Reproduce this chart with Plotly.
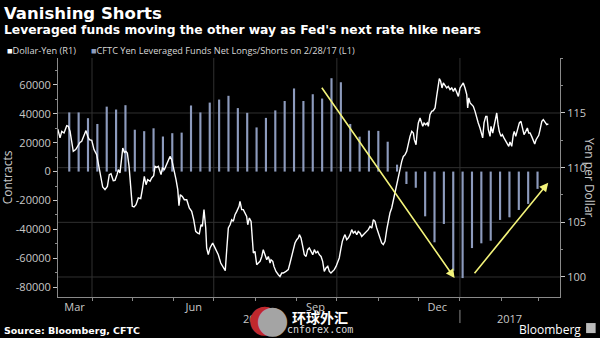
import pandas as pd
import plotly.graph_objects as go

# ---------------- text ----------------
title = "Vanishing Shorts"
subtitle = "Leveraged funds moving the other way as Fed's next rate hike nears"
legend_line = "Dollar-Yen (R1)"
legend_bar = "CFTC Yen Leveraged Funds Net Longs/Shorts on 2/28/17 (L1)"
source = "Source: Bloomberg, CFTC"
brand = "Bloomberg"
left_title = "Contracts"
right_title = "Yen per Dollar"
watermark_cn = "环球外汇"
watermark_en = "cnforex.com"

# ---------------- data ----------------
# CFTC weekly report (Tuesdays), first report and net positions in contracts
cftc_first_report = "2016-03-15"
cftc_net = [41000, 41000, 37000, 33000, 45000, 43000, 46000, 29000, 28000, 30000,
            24300, 26600, 27000, 45800,
            41000, 47800, 49900, 52500, 44000, 40700, 30600, 37200, 42400, 48900,
            57600, 48900, 53600, 50600, 64700, 61900, 33000, 24200, 28400, 28200,
            20700, 4800,
            -8600, -11200, -31000, -49000, -36300, -68700, -73800, -53000, -49700,
            -47900, -33500, -31700, -26600, -22400, -12000]

# Dollar-Yen: days after 2016-03-01 and level
usdjpy_origin = "2016-03-01"
usdjpy_day = [
    5.4, 7.1, 8.4, 10.1, 12.1, 13.3, 14.6, 17.0, 18.8, 20.8, 22.0, 23.3, 25.3, 26.5, 27.8,
    29.0, 30.8, 32.5, 34.5, 36.2, 37.7, 39.0, 40.7, 42.5, 43.9, 45.2, 46.9, 48.2, 49.7,
    50.7, 51.9, 53.2, 54.0, 55.2, 56.4, 57.4, 58.7, 59.9, 61.1, 62.4, 63.9, 65.6, 67.4,
    68.6, 70.1, 71.4, 72.6, 74.4, 75.6, 77.1, 78.1, 79.4, 80.6, 82.6, 83.6, 85.1, 86.3,
    88.0, 89.3, 90.6, 92.3, 93.8, 95.1, 96.0, 97.0, 98.5, 100.0, 101.8, 103.7, 105.5,
    107.0, 108.5, 110.0, 111.2, 112.5, 113.5, 114.7,
    116.0, 116.7, 117.9, 119.2, 121.2, 122.4, 123.7, 125.4, 127.2, 129.2, 130.6, 131.7,
    132.9, 134.2, 135.4, 136.6, 137.9, 139.2, 140.9, 141.6, 142.9, 144.1, 145.4, 146.6,
    147.4, 148.6, 149.9, 150.8, 151.6, 152.8, 154.1, 155.3, 156.6, 157.9, 159.0, 160.3,
    161.6, 162.8, 164.1, 164.8, 166.1, 167.0, 168.5, 170.3, 171.5, 172.8, 174.0, 176.0,
    177.7, 179.0, 180.3, 181.5, 182.7, 184.0, 185.2, 186.0, 187.2, 188.5, 189.7, 191.0,
    192.2, 193.4, 194.7, 196.0, 197.2, 198.4, 199.7, 200.9, 202.2, 203.4, 204.6, 205.9,
    207.2, 208.4, 209.6, 210.9, 212.1, 213.4, 214.7, 215.8, 216.9, 218.1, 219.4, 220.1,
    221.4, 222.6,
    223.9, 225.1, 226.3, 227.6, 228.9, 230.0, 231.3, 232.6, 233.8, 235.1,
    236.3, 237.5, 238.8, 240.1, 241.3, 242.5, 243.8, 245.0, 246.3, 247.5,
    248.7, 250.0, 251.3, 252.5, 253.7, 255.0, 255.8, 256.7, 257.5, 258.7,
    259.9, 261.2, 262.5, 263.7, 265.0, 266.2, 267.4, 268.7, 270.0, 271.2,
    271.9, 273.2, 274.1, 274.9, 276.2, 276.9, 278.2, 279.2, 280.4, 281.6,
    282.4, 283.6, 284.9, 286.1, 287.4, 288.6, 289.8, 290.6, 291.6, 292.6,
    293.6, 294.9, 296.1, 297.3, 298.6, 299.9, 301.1, 302.3, 303.6, 304.8,
    306.1, 307.3, 308.5, 309.8, 311.1, 311.8, 312.6, 313.6, 314.8, 316.0,
    317.3, 318.5, 319.7, 321.0, 322.3, 323.0, 324.0, 325.3, 326.2, 327.2,
    328.5, 329.2, 330.5, 331.7, 332.7, 333.5, 334.5, 335.4, 336.7, 337.7,
    338.9, 340.2, 341.4, 342.5, 343.4, 344.7, 345.9, 346.6, 347.7, 348.9,
    350.4, 351.6, 352.9, 353.9, 355.2, 356.4, 357.4, 358.4, 359.6, 360.8,
    361.9, 362.9, 363.9, 364.9, 365.9, 367.2, 368.3, 369.6, 370.9, 372.1]
usdjpy = [
    113.54, 112.72, 113.32, 113.17, 113.84, 113.78, 113.32, 111.49, 111.65, 112.10,
    112.31, 112.41, 113.02, 113.39, 112.87, 112.56, 112.50, 111.65, 111.19, 109.97,
    108.90, 108.23, 107.99, 108.29, 109.36, 109.45, 108.81, 108.84, 109.36, 109.82,
    109.51, 110.73, 111.80, 111.40, 111.49, 111.34, 110.12, 108.29, 106.46, 106.40,
    106.61, 107.23, 107.16, 107.99, 109.20, 108.44, 108.90, 108.75, 109.06, 109.27,
    110.12, 110.03, 110.12, 109.36, 109.97, 109.82, 110.12, 110.58, 111.03, 110.73,
    109.82, 108.90, 107.99, 106.52, 107.53, 107.37, 107.07, 107.07, 106.31, 106.00,
    105.24, 104.17, 104.02, 103.96, 104.78, 104.63, 106.16,
    104.48, 102.65, 102.04, 102.65, 103.11, 102.80, 102.50, 102.04, 101.28, 100.82,
    100.58, 102.50, 104.48, 104.78, 105.24, 105.09, 105.70, 106.00, 106.46, 106.92,
    106.16, 106.16, 105.79, 105.54, 104.78, 105.40, 105.09, 103.71, 102.20, 102.34,
    101.13, 101.28, 101.43, 101.88, 102.50, 102.04, 101.58, 101.88, 101.28, 101.58,
    101.43, 100.97, 100.51, 100.21, 100.05, 100.36, 100.36, 100.51, 100.67, 101.28,
    101.88, 102.34, 103.11, 103.41, 103.57, 103.87, 103.57, 102.80, 102.04, 101.88,
    102.50, 102.65, 102.34, 102.04, 102.50, 102.20, 102.34, 102.04, 101.88, 101.43,
    100.51, 100.82, 100.97, 100.51, 100.36, 100.51, 100.67, 100.97, 101.43, 101.74,
    102.50, 103.26, 103.71, 103.87, 103.41, 103.57,
    103.87, 104.33, 104.02, 104.17, 103.87, 104.17, 104.02, 103.71, 103.87, 104.02,
    104.17, 104.33, 104.63, 104.48, 105.24, 105.09, 104.48, 104.02, 103.41, 103.11,
    102.96, 103.26, 104.33, 105.24, 105.85, 106.31, 106.77, 107.23, 107.83, 108.44,
    109.06, 109.66, 110.58, 111.03, 111.19, 111.49, 112.26, 112.86, 113.32, 113.17,
    112.56, 112.10, 113.32, 114.09, 114.55, 114.24, 113.78, 114.09, 113.93, 114.09,
    113.78, 114.85, 115.15, 115.21, 115.46, 116.52, 117.75, 118.14, 117.90, 117.29,
    117.75, 117.44, 117.29, 117.44, 117.14, 117.29, 116.98, 117.29, 116.83, 116.52,
    117.29, 117.59, 117.75, 117.29, 116.68, 115.46, 116.38, 115.92, 115.76, 115.61,
    115.15, 114.55, 114.09, 113.63, 112.86, 112.72, 114.09, 114.69, 114.69, 113.48,
    112.86, 113.78, 113.17, 113.93, 114.85, 115.00, 113.93, 113.32, 112.86, 113.02,
    112.72, 112.41, 112.10, 111.95, 112.35, 111.95, 113.02, 113.32, 112.86, 113.48,
    114.09, 114.24, 113.63, 113.02, 113.32, 113.63, 113.17, 113.17, 112.86, 112.41,
    112.17, 112.56, 112.72, 112.96, 113.48, 114.24, 114.39, 114.09, 113.93, 114.00]
assert len(usdjpy_day) == len(usdjpy)

# axis ticks / labels
month_labels = ["Mar", "Jun", "Sep", "Dec"]
month_label_dates = ["2016-03-19", "2016-06-16", "2016-09-15", "2016-12-15"]
month_starts = ["2016-04-01", "2016-05-01", "2016-06-01", "2016-07-01", "2016-08-01",
                "2016-09-01", "2016-10-01", "2016-11-01", "2016-12-01", "2017-01-01",
                "2017-02-01", "2017-03-01"]
quarter_grid = ["2016-04-01", "2016-07-01", "2016-10-01", "2017-01-01"]
year_labels = ["2016", "2017"]
year_label_dates = ["2016-08-01", "2017-02-07"]
year_break = "2017-01-01"
x_range = ["2016-03-06 14:00", "2017-03-16 19:00"]

left_ticks = [-80000, -60000, -40000, -20000, 0, 20000, 40000, 60000]
left_ticktext = ["-80000", "-60000", "-40000", "-20000", "0", "20000", "40000", "60000"]
left_range = [-86900, 78700]
right_ticks = [100, 105, 110, 115]
right_range = [98.17, 120.03]

# annotation arrows: (tail date, tail yen) -> (head date, head yen)
arrows = [(("2016-09-19", 117.44), ("2016-12-28", 99.9)),
          (("2017-01-11", 100.21), ("2017-03-08", 108.63))]

# ---------------- styles ----------------
BAR = "#8d9bbd"
AX = "#8a8a8a"
GRID = "#303030"
TXT = "#c8c8c8"
ARROW = "#f3f37a"
SANS = "Open Sans"
BOLD = "DejaVu Sans"

base = pd.Timestamp(usdjpy_origin)
line_dates = base + pd.to_timedelta(usdjpy_day, unit="D")
bar_dates = pd.date_range(cftc_first_report, periods=len(cftc_net), freq="7D")

fig = go.Figure()
fig.add_bar(x=bar_dates, y=cftc_net, width=1.6 * 86400000,
            marker=dict(color=BAR, line_width=0), yaxis="y", name=legend_bar)
fig.add_scatter(x=line_dates, y=usdjpy, mode="lines", yaxis="y2",
                line=dict(color="white", width=1.4), name=legend_line)

fig.update_layout(
    width=600, height=338,
    margin=dict(l=58, r=40, t=58, b=41),
    paper_bgcolor="black", plot_bgcolor="rgba(0,0,0,0)",
    showlegend=False,
    font=dict(family=SANS, color=TXT, size=11),
    xaxis=dict(type="date", range=x_range, tickvals=month_label_dates,
               ticktext=month_labels, ticks="", showgrid=False, zeroline=False,
               showline=True, linecolor=AX, linewidth=1,
               tickfont=dict(size=11, color=TXT),
               minor=dict(tickvals=month_starts, ticks="outside", ticklen=3,
                          tickcolor=AX, showgrid=False)),
    yaxis=dict(range=left_range, tickvals=left_ticks, ticktext=left_ticktext,
               ticks="outside", ticklen=4, tickcolor=TXT, showline=True,
               linecolor=AX, showgrid=False, zeroline=False,
               tickfont=dict(size=11, color=TXT),
               minor=dict(tick0=0, dtick=10000, ticks="outside", ticklen=2,
                          tickcolor=AX)),
    yaxis2=dict(overlaying="y", side="right", range=right_range,
                tickvals=right_ticks, ticks="outside", ticklen=4, tickcolor=TXT,
                showline=True, linecolor=AX, showgrid=False, zeroline=False,
                tickfont=dict(size=11, color=TXT),
                minor=dict(tick0=0, dtick=2.5, ticks="outside", ticklen=2,
                           tickcolor=AX)),
)

# gridlines
for v in right_ticks:
    fig.add_shape(type="line", xref="paper", x0=0, x1=1, yref="y2", y0=v, y1=v,
                  line=dict(color=GRID, width=1), layer="below")
for d in quarter_grid:
    fig.add_shape(type="line", xref="x", x0=d, x1=d, yref="paper", y0=0, y1=1,
                  line=dict(color=GRID, width=1), layer="below")
# year divider below the axis
fig.add_shape(type="line", xref="x", x0=year_break, x1=year_break, yref="paper",
              y0=-0.054, y1=-0.109, line=dict(color=AX, width=1))

# arrows
for (tx, ty), (hx, hy) in arrows:
    fig.add_annotation(x=hx, y=hy, xref="x", yref="y2", ax=tx, ay=ty,
                       axref="x", ayref="y2", text="", showarrow=True,
                       arrowhead=2, arrowsize=1.1, arrowwidth=1.6,
                       arrowcolor=ARROW)

def txt(s, x, y, size, color=TXT, family=SANS, xanchor="left", angle=0, bold=False):
    fig.add_annotation(text=f"<b>{s}</b>" if bold else s, x=x, y=y,
                       xref="paper", yref="paper", xanchor=xanchor,
                       yanchor="middle", showarrow=False, textangle=angle,
                       font=dict(size=size, color=color, family=family))

txt(title, -0.1116, 1.188, 16.5, "white", BOLD, bold=True)
txt(subtitle, -0.1116, 1.119, 12.3, "white", BOLD, bold=True)
txt(f"<span style='color:white'>■</span>{legend_line}", -0.1056, 1.033, 9.2, "#d8d8d8")
txt(f"<span style='color:{BAR}'>■</span>{legend_bar}", 0.062, 1.033, 9.2, "#d8d8d8")
txt(left_title, -0.1, 0.5, 12, TXT, SANS, xanchor="center", angle=-90)
txt(right_title, 1.059, 0.5, 12, TXT, SANS, xanchor="center", angle=90)
for lab, d in zip(year_labels, year_label_dates):
    fig.add_annotation(text=lab, x=d, y=-0.088, xref="x", yref="paper",
                       xanchor="center", yanchor="middle", showarrow=False,
                       font=dict(size=11, color=TXT, family=SANS))
txt(source, -0.1116, -0.142, 9.5, "white", BOLD, bold=True)
txt(brand, 1.0458, -0.134, 12, "white", SANS, xanchor="right")
fig.add_shape(type="rect", xref="paper", yref="paper", x0=1.052, x1=1.071,
              y0=-0.151, y1=-0.109, fillcolor="#bbbbbb", line_width=0)

# watermark
txt("●", 0.412, -0.086, 38, "#c0282d", "DejaVu Sans", xanchor="center")
txt("●", 0.428, -0.094, 38, "#a4a4a4", "DejaVu Sans", xanchor="center")
txt(watermark_cn, 0.522, -0.082, 14, "white", "Noto Sans CJK SC", xanchor="center", bold=True)
txt(watermark_en, 0.522, -0.134, 10, "#dddddd", "DejaVu Sans Mono", xanchor="center")

fig.write_html("out.html")
